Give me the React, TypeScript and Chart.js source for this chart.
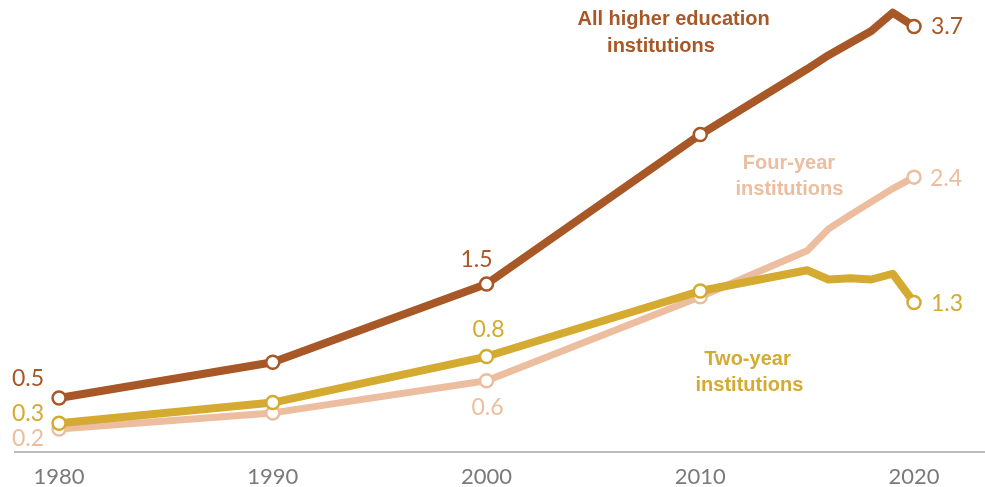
import React, { useEffect, useRef } from "react";
import { Chart, registerables } from "chart.js";

Chart.register(...registerables);

// ---- Data ----
const ALL_YEARS = [1980, 1990, 2000, 2010, 2015, 2016, 2018, 2019, 2020];
const ALL_VALUES = [0.47, 0.78, 1.46, 2.76, 3.33, 3.45, 3.66, 3.82, 3.7];

const TWO_YEARS = [1980, 1990, 2000, 2010, 2015, 2016, 2017, 2018, 2019, 2020];
const TWO_VALUES = [0.25, 0.43, 0.83, 1.4, 1.58, 1.5, 1.51, 1.5, 1.55, 1.3];

const FOUR_YEARS = [1980, 1990, 2000, 2010, 2015, 2016, 2017, 2019, 2020];
const FOUR_VALUES = [0.2, 0.34, 0.62, 1.35, 1.75, 1.94, 2.06, 2.29, 2.39];

const MARKER_YEARS = [1980, 1990, 2000, 2010, 2020];
const X_TICKS = [1980, 1990, 2000, 2010, 2020];

const SERIES_NAMES = [
  ["All higher education", "institutions"],
  ["Two-year", "institutions"],
  ["Four-year", "institutions"],
];

// value labels: series index, year, text
const VALUE_LABELS = [
  { s: 0, year: 1980, text: "0.5" },
  { s: 1, year: 1980, text: "0.3" },
  { s: 2, year: 1980, text: "0.2" },
  { s: 0, year: 2000, text: "1.5" },
  { s: 1, year: 2000, text: "0.8" },
  { s: 2, year: 2000, text: "0.6" },
  { s: 0, year: 2020, text: "3.7" },
  { s: 2, year: 2020, text: "2.4" },
  { s: 1, year: 2020, text: "1.3" },
];

// ---- Styles / layout ----
const COLORS = ["#a85726", "#d4aa30", "#ecbe9f"];
const LABEL_OFFSETS: Record<string, { dx: number; dy: number; align: CanvasTextAlign }> = {
  "0-1980": { dx: -15, dy: -19, align: "right" },
  "1-1980": { dx: -15, dy: -10, align: "right" },
  "2-1980": { dx: -15, dy: 10, align: "right" },
  "0-2000": { dx: -10, dy: -25, align: "center" },
  "1-2000": { dx: 2, dy: -27, align: "center" },
  "2-2000": { dx: 1, dy: 27, align: "center" },
  "0-2020": { dx: 17, dy: 0, align: "left" },
  "2-2020": { dx: 16, dy: 1, align: "left" },
  "1-2020": { dx: 17, dy: 1, align: "left" },
};
// title line anchors in data coordinates [year, value]
const TITLE_POS = [
  [[2008.75, 3.757], [2008.16, 3.522]],
  [[2012.21, 0.805], [2012.3, 0.579]],
  [[2014.15, 2.507], [2014.17, 2.281]],
];

const SERIES = [
  { years: ALL_YEARS, values: ALL_VALUES },
  { years: TWO_YEARS, values: TWO_VALUES },
  { years: FOUR_YEARS, values: FOUR_VALUES },
];

const annotPlugin = {
  id: "annot",
  afterDatasetsDraw(chart: any) {
    const { ctx, scales } = chart;
    const x = scales.x;
    const y = scales.y;
    ctx.save();
    ctx.textBaseline = "middle";
    ctx.font = "23px Lato";
    for (const l of VALUE_LABELS) {
      const ser = SERIES[l.s];
      const v = ser.values[ser.years.indexOf(l.year)];
      const off = LABEL_OFFSETS[`${l.s}-${l.year}`];
      ctx.fillStyle = COLORS[l.s];
      ctx.textAlign = off.align;
      ctx.fillText(l.text, x.getPixelForValue(l.year) + off.dx, y.getPixelForValue(v) + off.dy);
    }
    ctx.font = "bold 20px 'Liberation Sans', Arial, sans-serif";
    ctx.textAlign = "center";
    SERIES_NAMES.forEach((lines, i) => {
      ctx.fillStyle = COLORS[i];
      lines.forEach((t, j) => {
        const [yr, val] = TITLE_POS[i][j];
        ctx.fillText(t, x.getPixelForValue(yr), y.getPixelForValue(val));
      });
    });
    ctx.restore();
  },
};

export default function App() {
  const ref = useRef<HTMLCanvasElement | null>(null);
  useEffect(() => {
    if (!ref.current) return;
    const chart = new Chart(ref.current, {
      type: "line",
      data: {
        datasets: SERIES.map((s, i) => ({
          data: s.years.map((yr, k) => ({ x: yr, y: s.values[k] })),
          borderColor: COLORS[i],
          borderWidth: i === 2 ? 7 : 8,
          borderJoinStyle: "round" as const,
          tension: 0,
          pointRadius: (c: any) => (MARKER_YEARS.includes(c.raw?.x) ? 6.5 : 0),
          pointHoverRadius: (c: any) => (MARKER_YEARS.includes(c.raw?.x) ? 6.5 : 0),
          pointBorderWidth: 2.5,
          pointBackgroundColor: "#ffffff",
          pointBorderColor: COLORS[i],
          fill: false,
          clip: false as const,
        })),
      },
      options: {
        animation: false,
        responsive: false,
        devicePixelRatio: 1,
        layout: { autoPadding: false, padding: { top: 6, left: 15, right: 0, bottom: 0 } },
        plugins: { legend: { display: false }, tooltip: { enabled: false } },
        scales: {
          x: {
            type: "linear",
            min: 1977.94,
            max: 2023.32,
            afterBuildTicks: (s: any) => {
              s.ticks = X_TICKS.map((v) => ({ value: v }));
            },
            afterFit: (s: any) => {
              s.height = 35;
              s.paddingLeft = 0;
              s.paddingRight = 0;
            },
            grid: { display: false, drawTicks: false },
            border: { display: true, color: "#bdbdbd", width: 2 },
            ticks: {
              padding: 12,
              color: "#7a7a7a",
              font: { family: "Lato", size: 22 },
              callback: (v: any) => String(v),
              maxRotation: 0,
            },
          },
          y: {
            type: "linear",
            display: false,
            min: 0,
            max: 3.878,
          },
        },
      },
      plugins: [annotPlugin],
    });
    return () => chart.destroy();
  }, []);
  return (
    <div style={{ position: "absolute", left: 0, top: 0, width: 985, height: 487, background: "#fff" }}>
      <canvas ref={ref} width={985} height={487} style={{ width: 985, height: 487 }} />
    </div>
  );
}
